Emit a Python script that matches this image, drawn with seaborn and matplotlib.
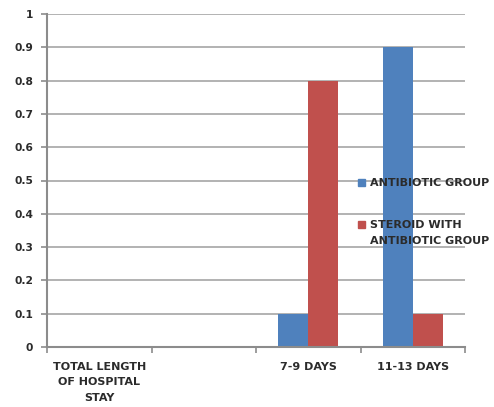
import matplotlib
matplotlib.use("Agg")
import matplotlib.pyplot as plt
import numpy as np
import pandas as pd
import seaborn as sns
from matplotlib.ticker import FixedLocator, FuncFormatter

categories = ["TOTAL LENGTH\nOF HOSPITAL\nSTAY", " ", "7-9 DAYS", "11-13 DAYS"]
antibiotic = [0.0, 0.0, 0.1, 0.9]
steroid = [0.0, 0.0, 0.8, 0.1]
series_names = ["ANTIBIOTIC GROUP", "STEROID WITH\nANTIBIOTIC GROUP"]
colors = ["#4F81BD", "#C0504D"]

df = pd.DataFrame({
    "category": categories * 2,
    "value": antibiotic + steroid,
    "group": [series_names[0]] * 4 + [series_names[1]] * 4,
})

sns.set_style("white")
plt.rcParams["font.family"] = ["DejaVu Sans"]

fig = plt.figure(figsize=(4.94, 4.07), dpi=100)
ax = fig.add_axes([47 / 494, 60 / 407, 418 / 494, 333 / 407])

sns.barplot(data=df, x="category", y="value", hue="group", order=categories,
            hue_order=series_names, palette=colors, width=0.57, saturation=1,
            linewidth=0, ax=ax, legend=False)

ax.set_ylim(0, 1)
ax.set_xlim(-0.5, 3.5)
ax.set_yticks(np.arange(0, 1.01, 0.1))
ax.yaxis.set_major_formatter(FuncFormatter(lambda v, _: f"{v:g}"))
ax.yaxis.grid(True, color="#A6A6A6", linewidth=1.2)
ax.set_axisbelow(True)
ax.set_xlabel("")
ax.set_ylabel("")

for side in ["top", "right"]:
    ax.spines[side].set_visible(False)
for side in ["left", "bottom"]:
    ax.spines[side].set_color("#8C8C8C")
    ax.spines[side].set_linewidth(1.5)

text_color = "#2B2B2B"
font_size = 8
ax.xaxis.set_minor_locator(FixedLocator([-0.5, 0.5, 1.5, 2.5, 3.5]))
ax.tick_params(axis="x", which="major", length=0, pad=11, labelsize=font_size,
               labelcolor=text_color)
ax.tick_params(axis="x", which="minor", length=4, width=1.2, color="#8C8C8C",
               bottom=True)
ax.tick_params(axis="y", which="major", length=4, width=1.2, color="#8C8C8C",
               left=True, pad=6, labelsize=7.7, labelcolor=text_color)
for lbl in ax.get_xticklabels() + ax.get_yticklabels():
    lbl.set_fontweight("bold")
for lbl in ax.get_xticklabels():
    lbl.set_linespacing(1.65)

handles = [plt.Rectangle((0, 0), 1, 1, color=c) for c in colors]
leg = ax.legend(handles, series_names, loc="upper left",
                bbox_to_anchor=(348 / 494, 1 - 168 / 407),
                bbox_transform=fig.transFigure, frameon=False,
                handlelength=0.6, handleheight=0.6, handletextpad=0.5,
                labelspacing=2.85, prop={"size": font_size, "weight": "bold"})
for t in leg.get_texts():
    t.set_color(text_color)
    t.set_linespacing(1.75)

# put the two-line entry's marker level with its first line
steroid_handle = leg.legend_handles[1]
steroid_handle.set_y(steroid_handle.get_y() + 0.72 * font_size)

fig.savefig("out.png", dpi=100)
